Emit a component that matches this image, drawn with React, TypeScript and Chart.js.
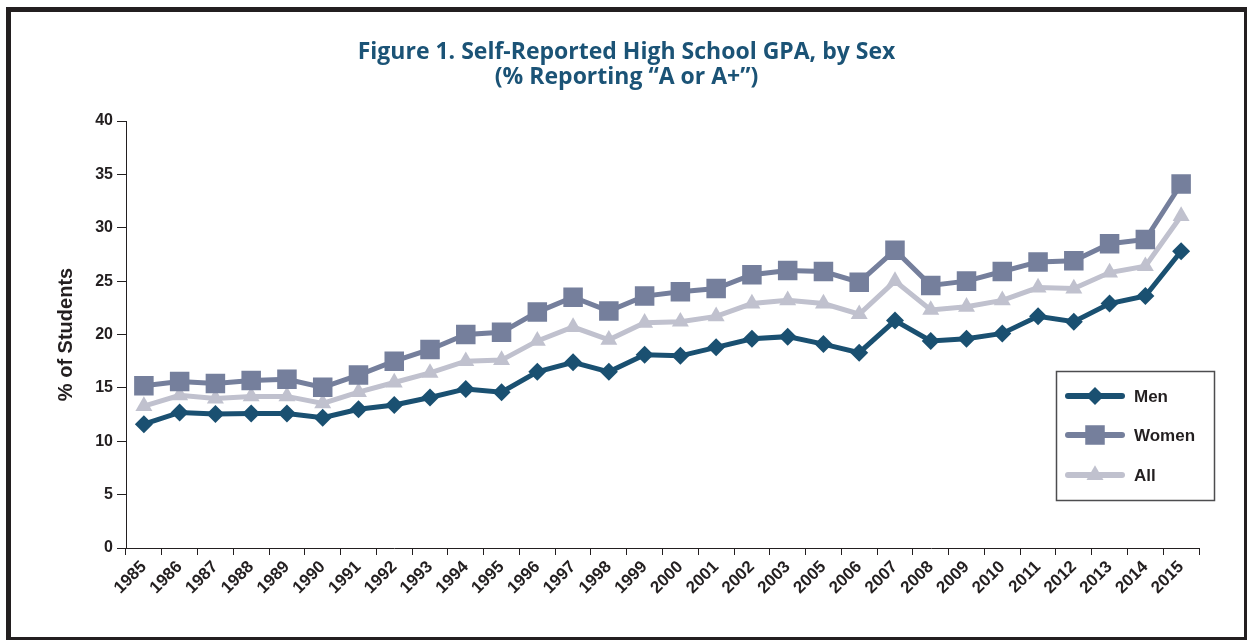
import React, { useEffect, useRef } from 'react';
import { Chart, registerables } from 'chart.js';

Chart.register(...registerables);

const years = ['1985', '1986', '1987', '1988', '1989', '1990', '1991', '1992', '1993', '1994', '1995', '1996', '1997', '1998', '1999', '2000', '2001', '2002', '2003', '2005', '2006', '2007', '2008', '2009', '2010', '2011', '2012', '2013', '2014', '2015'];
const men = [11.6, 12.7, 12.55, 12.6, 12.6, 12.2, 13.0, 13.4, 14.1, 14.9, 14.6, 16.5, 17.4, 16.5, 18.1, 18.0, 18.8, 19.6, 19.8, 19.1, 18.3, 21.3, 19.4, 19.6, 20.1, 21.7, 21.2, 22.9, 23.6, 27.8];
const women = [15.2, 15.6, 15.4, 15.7, 15.8, 15.05, 16.2, 17.5, 18.6, 20.0, 20.2, 22.1, 23.5, 22.2, 23.6, 24.0, 24.3, 25.6, 26.0, 25.9, 24.9, 27.9, 24.6, 25.0, 25.9, 26.8, 26.9, 28.5, 28.9, 34.1];
const all = [13.3, 14.3, 14.0, 14.2, 14.2, 13.55, 14.6, 15.5, 16.4, 17.5, 17.6, 19.4, 20.7, 19.5, 21.1, 21.2, 21.7, 22.9, 23.2, 22.9, 21.9, 25.0, 22.3, 22.6, 23.2, 24.4, 24.3, 25.8, 26.4, 31.1];
const seriesNames = ['Men', 'Women', 'All'];
const titleLines = ['Figure 1. Self-Reported High School GPA, by Sex', '(% Reporting \u201cA or A+\u201d)'];
const yTitle = '% of Students';

const MEN_COLOR = '#1a5071';
const WOMEN_COLOR = '#757f9c';
const ALL_COLOR = '#c0c1ce';
const INK = '#231f20';
const FONT = "'Liberation Sans', Arial, Helvetica, sans-serif";

function drawMarker(ctx: CanvasRenderingContext2D, style: string, x: number, y: number, r: number) {
  ctx.beginPath();
  if (style === 'rectRot') {
    ctx.moveTo(x - r, y);
    ctx.lineTo(x, y - r);
    ctx.lineTo(x + r, y);
    ctx.lineTo(x, y + r);
  } else if (style === 'rect') {
    const s = Math.SQRT1_2 * r;
    ctx.rect(x - s, y - s, 2 * s, 2 * s);
  } else {
    let a = 0;
    ctx.moveTo(x + Math.sin(a) * r, y - Math.cos(a) * r);
    a += (2 * Math.PI) / 3;
    ctx.lineTo(x + Math.sin(a) * r, y - Math.cos(a) * r);
    a += (2 * Math.PI) / 3;
    ctx.lineTo(x + Math.sin(a) * r, y - Math.cos(a) * r);
  }
  ctx.closePath();
  ctx.fill();
}

export default function App() {
  const ref = useRef<HTMLCanvasElement>(null);

  useEffect(() => {
    const legendPlugin = {
      id: 'boxLegend',
      afterDraw(chart: any) {
        const ctx: CanvasRenderingContext2D = chart.ctx;
        const boxL = 1056, boxT = 371, boxW = 158, boxH = 129;
        ctx.save();
        ctx.strokeStyle = '#4d4d4f';
        ctx.lineWidth = 1.5;
        ctx.strokeRect(boxL + 0.5, boxT + 0.5, boxW, boxH);
        const rows = [396, 435, 475];
        chart.data.datasets.forEach((ds: any, i: number) => {
          const y = rows[i];
          ctx.strokeStyle = ds.borderColor;
          ctx.lineWidth = 6;
          ctx.lineCap = 'round';
          ctx.beginPath();
          ctx.moveTo(boxL + 12, y);
          ctx.lineTo(boxL + 66, y);
          ctx.stroke();
          ctx.fillStyle = ds.pointBackgroundColor;
          drawMarker(ctx, ds.pointStyle, boxL + 39, y, ds.pointRadius);
          ctx.fillStyle = INK;
          ctx.font = `bold 17px ${FONT}`;
          ctx.textBaseline = 'middle';
          ctx.textAlign = 'left';
          ctx.fillText(ds.label, boxL + 78, y + 1);
        });
        ctx.restore();
      },
    };

    const mk = (label: string, data: number[], color: string, style: string, r: number) => ({
      label,
      data,
      borderColor: color,
      backgroundColor: color,
      pointBackgroundColor: color,
      pointBorderColor: color,
      pointBorderWidth: 0,
      pointStyle: style,
      pointRadius: r,
      borderWidth: 5,
      tension: 0,
      fill: false,
    });

    const chart = new Chart(ref.current!, {
      type: 'line',
      data: {
        labels: years,
        datasets: [
          mk(seriesNames[0], men, MEN_COLOR, 'rectRot', 9),
          mk(seriesNames[1], women, WOMEN_COLOR, 'rect', 13.8),
          mk(seriesNames[2], all, ALL_COLOR, 'triangle', 9.8),
        ],
      },
      options: {
        responsive: false,
        animation: false,
        devicePixelRatio: 1,
        layout: { padding: { left: 54, right: 49, top: 0, bottom: 0 } },
        plugins: {
          legend: { display: false },
          tooltip: { enabled: false },
          title: {
            display: true,
            text: titleLines,
            color: '#1b5376',
            font: { family: "'Open Sans', sans-serif", size: 23, weight: 'bold', lineHeight: '25px' },
            padding: { top: 40, bottom: 31 },
          },
        },
        scales: {
          x: {
            type: 'category',
            offset: true,
            grid: { display: true, drawOnChartArea: false, drawTicks: true, tickLength: 7, color: INK, offset: true },
            border: { display: true, color: INK, width: 1 },
            ticks: {
              autoSkip: false,
              minRotation: 45,
              maxRotation: 45,
              color: INK,
              padding: 2,
              font: { family: FONT, size: 17, weight: 'bold' },
            },
            afterFit: (s: any) => { s.height = 93; },
          },
          y: {
            min: 0,
            max: 40,
            grid: { display: true, drawOnChartArea: false, drawTicks: true, tickLength: 9, color: INK },
            border: { display: true, color: INK, width: 1 },
            ticks: {
              stepSize: 5,
              color: INK,
              padding: 4,
              font: { family: FONT, size: 16, weight: 'bold' },
            },
            title: {
              display: true,
              text: yTitle,
              color: INK,
              padding: 0,
              font: { family: FONT, size: 20, weight: 'bold', lineHeight: 1.2 },
            },
            afterFit: (s: any) => { s.width = 72; },
          },
        },
      },
      plugins: [legendPlugin],
    } as any);

    return () => chart.destroy();
  }, []);

  return (
    <div style={{ position: 'fixed', left: 0, top: 0, width: 1248, height: 641, background: '#fff' }}>
      <div
        style={{
          position: 'absolute',
          left: 6,
          top: 7,
          width: 1241,
          height: 633,
          boxSizing: 'border-box',
          borderStyle: 'solid',
          borderColor: INK,
          borderWidth: '5px 3px 3px 5px',
        }}
      />
      <canvas
        ref={ref}
        width={1248}
        height={641}
        style={{ position: 'absolute', left: 0, top: 0, width: 1248, height: 641 }}
      />
    </div>
  );
}
